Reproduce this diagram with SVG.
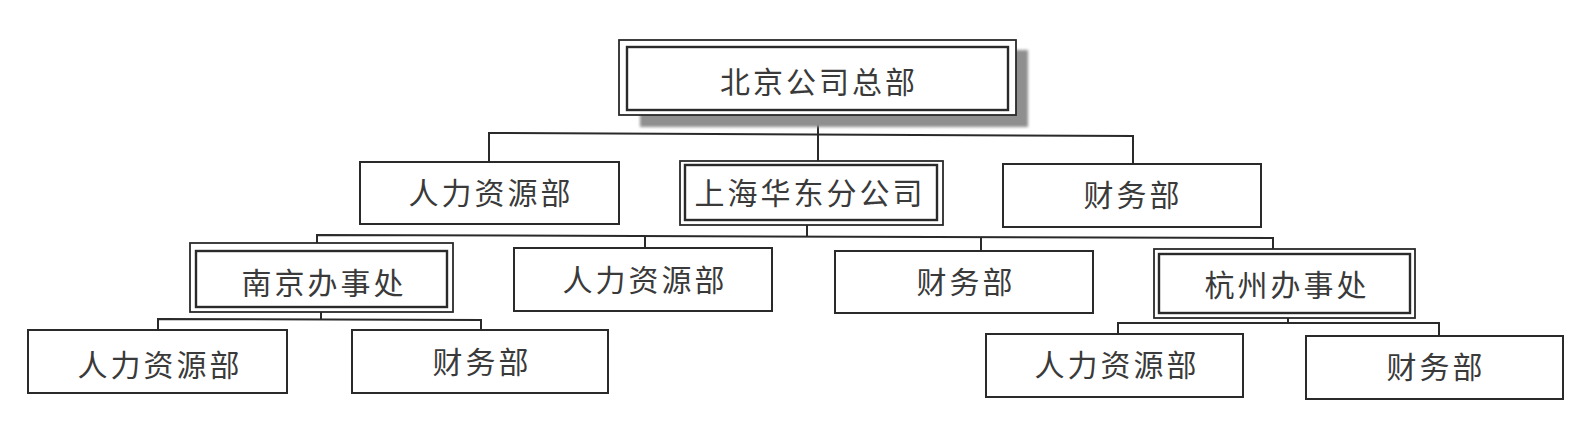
<svg xmlns="http://www.w3.org/2000/svg" width="1594" height="424" viewBox="0 0 1594 424">
<defs>
<filter id="blur" x="-5%" y="-10%" width="110%" height="120%"><feGaussianBlur stdDeviation="1.5"/></filter>
</defs>
<style>
.box{fill:#fff;stroke:#2a2a2a;stroke-width:2}
.outer{fill:#fff;stroke:#2a2a2a;stroke-width:1.8}
.inner{fill:#fff;stroke:#2a2a2a;stroke-width:2.4}
.conn{fill:none;stroke:#2a2a2a;stroke-width:2}
.lbl{font-family:"Noto Sans CJK SC","Noto Sans",sans-serif;font-size:30px;fill:#3a3a3a;text-anchor:middle;letter-spacing:3px}
</style>
<rect width="1594" height="424" fill="#fff"/>
<g id="connectors">
<polyline class="conn" points="489,162 489,133 1133,136 1133,164"/>
<line class="conn" x1="818" y1="115" x2="818" y2="161"/>
<polyline class="conn" points="317,243 317,235 1273,238 1273,249"/>
<line class="conn" x1="807" y1="225" x2="807" y2="237"/>
<line class="conn" x1="645" y1="236" x2="645" y2="248"/>
<line class="conn" x1="981" y1="238" x2="981" y2="251"/>
<polyline class="conn" points="158,330 158,319 481,320 481,330"/>
<line class="conn" x1="321" y1="312" x2="321" y2="320"/>
<polyline class="conn" points="1118,334 1118,323 1439,323 1439,336"/>
<line class="conn" x1="1288" y1="318" x2="1288" y2="323"/>
</g>
<g id="n-beijing">
<rect x="640" y="50" width="388" height="77" fill="#8f8f8f" filter="url(#blur)"/>
<rect class="outer" x="619" y="40" width="397" height="75"/>
<rect class="inner" x="627" y="47" width="381" height="63"/>
<text class="lbl" x="819" y="93">北京公司总部</text>
</g>
<g id="n-hr1">
<rect class="box" x="360" y="162" width="259" height="62"/>
<text class="lbl" x="491" y="204">人力资源部</text>
</g>
<g id="n-shanghai">
<rect class="outer" x="680" y="161" width="263" height="64"/>
<rect class="inner" x="685" y="165" width="252" height="55"/>
<text class="lbl" x="810" y="204">上海华东分公司</text>
</g>
<g id="n-fin1">
<rect class="box" x="1003" y="164" width="258" height="63"/>
<text class="lbl" x="1133" y="206">财务部</text>
</g>
<g id="n-nanjing">
<rect class="outer" x="190" y="243" width="263" height="69"/>
<rect class="inner" x="196" y="251" width="251" height="56"/>
<text class="lbl" x="324" y="294">南京办事处</text>
</g>
<g id="n-hr2">
<rect class="box" x="514" y="248" width="258" height="63"/>
<text class="lbl" x="645" y="291">人力资源部</text>
</g>
<g id="n-fin2">
<rect class="box" x="835" y="251" width="258" height="62"/>
<text class="lbl" x="966" y="293">财务部</text>
</g>
<g id="n-hangzhou">
<rect class="outer" x="1154" y="249" width="261" height="69"/>
<rect class="inner" x="1159" y="254" width="251" height="59"/>
<text class="lbl" x="1287" y="296">杭州办事处</text>
</g>
<g id="n-hr3a">
<rect class="box" x="28" y="330" width="259" height="63"/>
<text class="lbl" x="160" y="376">人力资源部</text>
</g>
<g id="n-fin3a">
<rect class="box" x="352" y="330" width="256" height="63"/>
<text class="lbl" x="482" y="373">财务部</text>
</g>
<g id="n-hr3b">
<rect class="box" x="986" y="334" width="257" height="63"/>
<text class="lbl" x="1117" y="376">人力资源部</text>
</g>
<g id="n-fin3b">
<rect class="box" x="1306" y="336" width="257" height="63"/>
<text class="lbl" x="1436" y="378">财务部</text>
</g>
</svg>
